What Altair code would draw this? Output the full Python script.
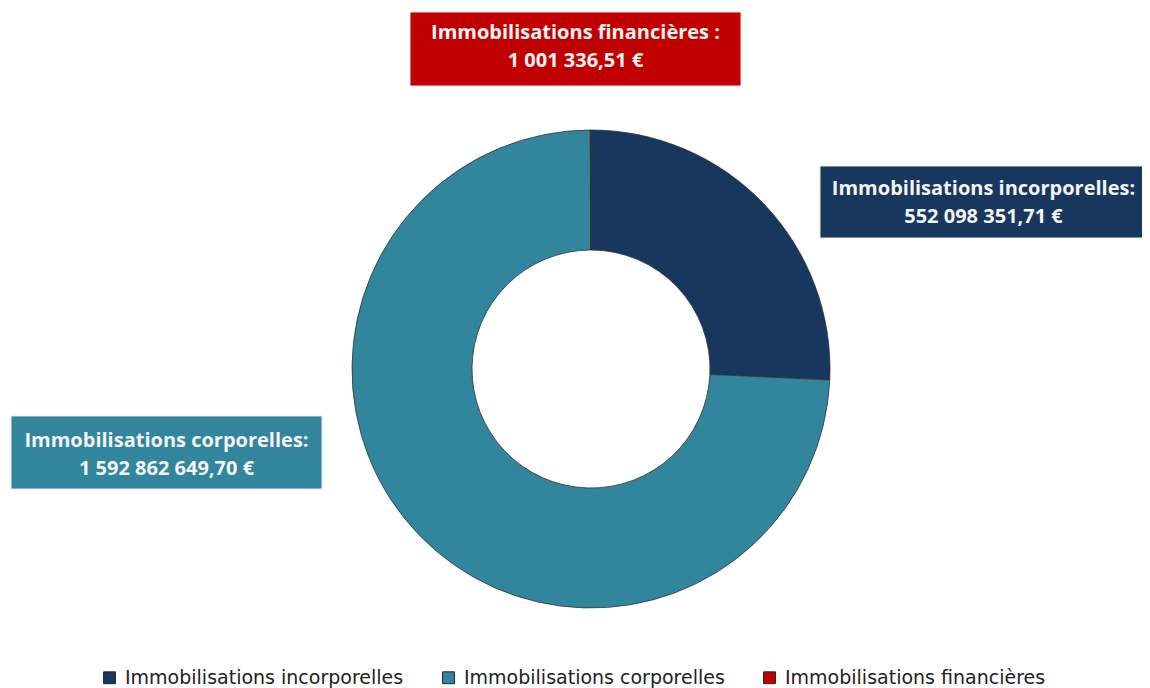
import altair as alt
import pandas as pd

# Data
categories = ["Immobilisations incorporelles", "Immobilisations corporelles", "Immobilisations financières"]
values = [552098351.71, 1592862649.70, 1001336.51]
label_line1 = ["Immobilisations incorporelles:", "Immobilisations corporelles:", "Immobilisations financières :"]
label_line2 = ["552 098 351,71 €", "1 592 862 649,70 €", "1 001 336,51 €"]
colors = ["#17375E", "#31859C", "#C00000"]

# Annotation box layout (plot pixel coords)
box_x0 = [812, 3, 402]
box_x1 = [1139, 314, 733]
box_y0 = [158, 408, 4]
box_y1 = [230, 481, 78]
text_y = [181, 433, 25]

df = pd.DataFrame({"cat": categories, "value": values, "order": [0, 1, 2]})
lab = pd.DataFrame({
    "cat": categories,
    "text": [a + "\n" + b for a, b in zip(label_line1, label_line2)],
    "x0": box_x0, "x1": box_x1, "y0": box_y0, "y1": box_y1, "ty": text_y,
})
lab["xc"] = (lab["x0"] + lab["x1"]) / 2

color_scale = alt.Scale(domain=categories, range=colors)

arcs = alt.Chart(df).mark_arc(
    outerRadius=239, innerRadius=119, stroke="#333333", strokeWidth=0.8
).encode(
    theta=alt.Theta("value:Q", stack=True),
    order=alt.Order("order:Q"),
    color=alt.Color(
        "cat:N", scale=color_scale, sort=categories,
        legend=alt.Legend(
            title=None, orient="none", direction="horizontal",
            legendX=92, legendY=660,
            symbolType="square", symbolSize=140, symbolStrokeColor="#222222",
            symbolStrokeWidth=1, labelFont="DejaVu Sans", labelFontSize=19,
            labelColor="#222222", labelLimit=400, columnPadding=35, labelOffset=6,
        ),
    ),
    x=alt.value(583),
    y=alt.value(361),
)

boxes = alt.Chart(lab).mark_rect(stroke="#E8E8E8", strokeWidth=1).encode(
    x=alt.X("x0:Q", scale=None, axis=None),
    x2="x1:Q",
    y=alt.Y("y0:Q", scale=None, axis=None),
    y2="y1:Q",
    color=alt.Color("cat:N", scale=color_scale, legend=None),
)

texts = alt.Chart(lab).mark_text(
    font="Open Sans", fontWeight="bold", fontSize=20, color="#F4F4F4",
    lineBreak="\n", lineHeight=28, align="center", baseline="middle",
).encode(
    x=alt.X("xc:Q", scale=None, axis=None),
    y=alt.Y("ty:Q", scale=None, axis=None),
    text="text:N",
)

chart = alt.layer(arcs, boxes, texts).properties(
    width=1134, height=680, autosize=alt.AutoSizeParams(type="none"), padding=0,
    background="white",
).configure_view(strokeWidth=0, stroke="transparent")

chart.save("out.html", embed_options={"renderer": "svg", "actions": False})
